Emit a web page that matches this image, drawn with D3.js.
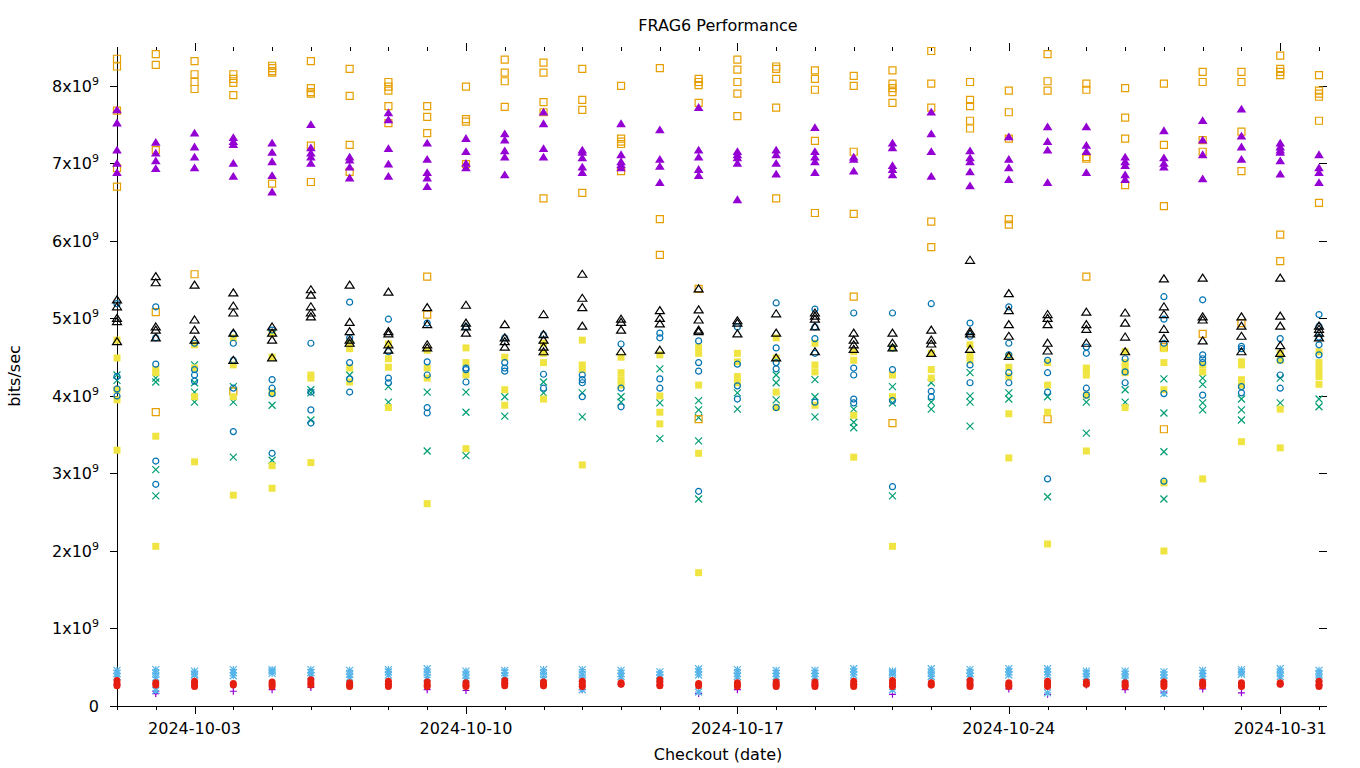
<!DOCTYPE html>
<html><head><meta charset="utf-8">
<script src="https://cdn.jsdelivr.net/npm/d3@7"></script>
<style>body{margin:0;background:#fff}svg{display:block}text{font-family:"DejaVu Sans",sans-serif;fill:#000}</style>
</head><body><svg id="c" width="1360" height="768"></svg>
<script>
const dates = ["2024-10-01","2024-10-02","2024-10-03","2024-10-04","2024-10-05","2024-10-06","2024-10-07","2024-10-08","2024-10-09","2024-10-10","2024-10-11","2024-10-12","2024-10-13","2024-10-14","2024-10-15","2024-10-16","2024-10-17","2024-10-18","2024-10-19","2024-10-20","2024-10-21","2024-10-22","2024-10-23","2024-10-24","2024-10-25","2024-10-26","2024-10-27","2024-10-28","2024-10-29","2024-10-30","2024-10-31","2024-11-01"];
const majorTicks = ["2024-10-03","2024-10-10","2024-10-17","2024-10-24","2024-10-31"];
const yTicks = [0,1,2,3,4,5,6,7,8]; // x10^9
// values in units of 1e9 bits/sec, one list per day
const purplePlus = [[0.27],[0.19,0.16],[0.31],[0.19],[0.21],[0.24],[0.27],[0.28],[0.21],[0.2],[0.3],[0.26],[0.21],[0.28],[0.27],[0.16],[0.21],[0.27],[0.27],[0.28],[0.15],[0.27],[0.27],[0.22],[0.15],[0.27],[0.21],[0.18],[0.22],[0.17],[0.28],[0.27]];
const greenX = [[4.27,4.2],[4.23,4.18,3.05,2.71],[4.4,4.17,4.05,3.92],[4.12,3.92,3.21],[4.05,3.88,3.17],[4.08,4.04,3.69],[4.27],[4.12,3.92],[4.05,3.29],[4.05,3.79,3.23],[3.99,3.74],[4.18,4.04],[4.04,3.73],[3.99,3.92],[4.35,3.91,3.45],[3.94,3.82,3.72,3.42,2.67],[4.04,3.83],[4.27,4.17,3.95],[4.21,3.99,3.73],[3.83,3.66,3.59],[4.12,3.91,2.71],[4.17,3.92,3.83],[4.3,4.0,3.92,3.61],[4.04,3.96],[3.99,2.7],[3.92,3.52],[4.08,3.92],[4.22,3.78,3.28,2.67],[4.23,4.15,3.91,3.82],[3.96,3.82,3.69],[4.23,3.91],[3.96,3.86]];
const blueStar = [[0.46,0.42,0.38],[0.47,0.42,0.37,0.2],[0.45,0.41,0.4],[0.47,0.43,0.39],[0.47,0.45,0.42],[0.47,0.43,0.39],[0.46,0.41,0.37],[0.47,0.44,0.4],[0.48,0.43,0.37],[0.45,0.4,0.36],[0.46,0.43,0.39],[0.47,0.42,0.37],[0.47,0.41,0.36,0.21],[0.46,0.42,0.38],[0.44,0.4,0.36],[0.48,0.44,0.4,0.18],[0.47,0.42,0.38],[0.46,0.42,0.38],[0.46,0.42,0.38],[0.48,0.44,0.4],[0.45,0.43,0.41,0.21],[0.48,0.43,0.38],[0.47,0.42,0.38],[0.48,0.44,0.4],[0.48,0.44,0.4,0.17],[0.45,0.42,0.38],[0.45,0.41,0.36],[0.44,0.4,0.36,0.16],[0.46,0.42,0.38],[0.47,0.44,0.41],[0.48,0.43,0.38],[0.46,0.41,0.36]];
const orangeSq = [[8.35,8.25,7.68,6.94,6.7],[8.41,8.27,7.17,5.08,3.79],[8.32,8.15,8.05,7.96,5.57],[8.15,8.09,8.04,7.88,4.06],[8.26,8.23,8.19,8.17,6.74],[8.32,7.97,7.92,7.9,7.23,6.76],[8.22,7.87,7.24,6.89],[8.05,7.99,7.94,7.74,7.52],[7.74,7.6,7.39,5.54,5.05],[7.99,7.57,7.54,6.99],[8.34,8.17,8.06,7.73],[8.3,8.17,7.79,7.66,6.55],[8.22,7.82,7.69,6.62],[8.0,7.32,7.28,7.25,6.9],[8.23,6.28,5.82],[8.09,8.05,8.01,7.78,5.38,3.7],[8.34,8.21,8.05,7.9,7.61],[8.25,8.22,8.09,7.72,6.55],[8.2,8.09,7.95,7.29,6.36],[8.13,8.0,7.15,6.35,5.28],[8.2,8.03,7.97,7.92,7.78,3.65],[8.45,8.03,7.72,6.25,5.92],[8.05,7.82,7.74,7.55,7.45],[7.94,7.66,7.32,6.28,6.21],[8.41,8.06,7.94,3.7],[8.03,7.95,7.08,7.06,5.54],[7.97,7.59,7.32,6.72],[8.03,7.24,6.45,4.63,3.57],[8.18,8.05,7.3,7.15,4.8],[8.18,8.05,7.41,6.9,4.94],[8.39,8.22,8.18,8.14,6.08,5.74],[8.14,7.94,7.9,7.86,7.55,6.49]];
const yellowSq = [[4.72,4.49,4.08,3.95,3.3],[4.34,4.3,3.48,2.06],[4.66,4.36,3.99,3.15],[4.75,4.4,3.99,2.72],[4.81,4.5,4.04,3.1,2.81],[4.27,4.23,3.14],[4.68,4.61,4.36,4.18],[4.67,4.48,4.37,3.85],[4.59,4.36,4.23,2.61],[4.62,4.43,4.27,3.32],[4.5,4.08,3.88],[4.68,4.55,4.43,3.96],[4.72,4.4,4.34,3.11],[4.5,4.3,4.21,4.14],[4.53,4.0,3.79,3.64],[4.63,4.55,4.14,3.26,1.72],[4.55,4.44,4.25,4.17],[4.75,4.49,4.05,3.85],[4.68,4.4,4.31,3.88],[4.57,4.46,3.75,3.21],[4.62,4.27,3.99,2.06],[4.55,4.34,4.23],[4.66,4.53,4.46],[4.51,4.37,4.25,3.77,3.2],[4.43,4.14,3.79,2.09],[4.36,4.34,4.27,4.01,3.29],[4.57,4.43,4.37,4.3,3.85],[4.61,4.43,4.08,2.88,2.0],[4.4,4.31,2.93],[4.44,4.4,4.21,4.14,3.41],[4.55,4.46,3.83,3.33],[4.57,4.43,4.34,4.25,4.15]];
const blueCircle = [[5.19,4.25,4.09,4.0],[5.15,4.75,4.41,3.16,2.86],[4.68,4.34,4.27,4.19],[4.8,4.68,4.46,4.1,3.54],[4.85,4.21,4.1,4.03,3.26],[4.68,4.05,3.82,3.65],[5.21,4.75,4.43,4.22,4.05],[4.99,4.57,4.23,4.17],[4.94,4.44,4.27,3.85,3.78],[4.89,4.36,4.34,4.18],[4.75,4.43,4.36,4.32],[4.79,4.28,4.1],[4.27,4.21,4.17,3.99],[4.67,4.1,3.86],[4.81,4.75,4.22,4.1],[4.71,4.43,4.32,2.77],[4.89,4.41,4.13,3.96],[5.2,4.62,4.43,4.35,3.85],[5.12,4.89,4.74,4.55,3.92],[5.07,4.36,4.27,3.96,3.91],[5.07,4.62,4.34,3.94,2.83],[5.19,4.06,3.99],[4.94,4.77,4.4,4.17],[5.15,4.68,4.53,4.3,4.17],[4.46,4.3,4.05,2.93],[4.63,4.55,4.1,4.01],[4.48,4.31,4.17],[5.28,4.99,4.68,4.03,2.9],[5.24,4.53,4.48,4.43,4.01],[4.64,4.61,4.12,4.04],[4.74,4.46,4.27,4.1],[5.05,4.9,4.76,4.66,4.53]];
const redCircle = [[0.33,0.29,0.26],[0.3,0.27],[0.32,0.28,0.25],[0.29,0.27],[0.31,0.28,0.25],[0.34,0.3,0.27],[0.3,0.27,0.25],[0.32,0.28,0.25],[0.31,0.27,0.25],[0.3,0.27,0.25],[0.33,0.29,0.26],[0.31,0.28,0.26],[0.32,0.28,0.25],[0.3,0.28],[0.34,0.3,0.26],[0.29,0.26],[0.3,0.27,0.25],[0.31,0.28,0.25],[0.31,0.28,0.25],[0.32,0.28,0.25],[0.33,0.29,0.25],[0.3,0.27],[0.33,0.29,0.25],[0.3,0.27,0.25],[0.32,0.28,0.25],[0.31,0.28],[0.3,0.27,0.25],[0.31,0.28,0.25],[0.31,0.28,0.26],[0.3,0.27,0.25],[0.3,0.28],[0.32,0.28,0.25]];
const blackTri = [[5.24,5.15,5.0,4.96,4.7],[5.54,5.46,4.89,4.85,4.75],[5.43,4.98,4.85,4.72],[5.33,5.16,5.07,4.81,4.46],[4.89,4.81,4.72,4.49],[5.37,5.3,5.15,5.07,5.02],[5.43,4.95,4.83,4.72,4.68],[5.34,4.83,4.8,4.66,4.59],[5.14,4.92,4.66,4.62],[5.17,4.94,4.89,4.81],[4.92,4.75,4.7,4.63],[5.05,4.79,4.72,4.63,4.57],[5.57,5.26,5.14,4.9],[4.99,4.95,4.85,4.57],[5.1,5.0,4.93,4.59],[5.38,5.11,4.98,4.85,4.83],[4.97,4.94,4.8],[5.06,4.81,4.49],[5.07,5.03,4.99,4.89,4.57],[4.81,4.72,4.66,4.6],[4.81,4.68,4.62],[4.85,4.72,4.67,4.55],[5.75,4.83,4.8,4.6],[5.32,5.1,4.92,4.77,4.51],[5.05,5.0,4.92,4.68,4.58],[5.08,4.92,4.86,4.68],[5.07,4.94,4.76,4.57],[5.51,5.15,5.05,4.86,4.74],[5.52,5.02,4.98,4.71],[5.02,4.9,4.77,4.57],[5.52,5.03,4.9,4.65,4.55],[4.9,4.86,4.81,4.75]];
const purpleTri = [[7.69,7.52,7.17,7.0,6.88],[7.27,7.13,7.03,6.93],[7.39,7.21,7.08,6.94],[7.33,7.28,7.24,7.0,6.83],[7.26,7.14,7.02,6.84,6.63],[7.5,7.2,7.13,7.08,7.0],[7.08,7.04,6.95,6.81],[7.65,7.56,7.19,6.99,6.83],[7.26,7.05,6.88,6.81,6.7],[7.32,7.15,7.0,6.94],[7.38,7.3,7.16,7.08,6.85],[7.66,7.51,7.19,7.08],[7.17,7.14,7.07,6.95,6.88],[7.51,7.11,7.02,6.98,6.94],[7.43,7.05,6.96,6.75],[7.72,7.17,7.08,6.92,6.84],[7.15,7.11,7.07,7.0,6.53],[7.17,7.11,7.0,6.86],[7.46,7.15,7.08,7.02,6.88],[7.08,7.05,6.9],[7.26,7.2,6.97,6.92,6.85],[7.66,7.38,7.15,6.83],[7.16,7.07,7.02,6.89,6.71],[7.34,7.05,6.94,6.79],[7.47,7.28,7.17,6.75],[7.47,7.23,7.15,6.88],[7.08,7.02,6.97,6.85,6.79],[7.42,7.07,7.0,6.95],[7.55,7.3,7.11,6.8],[7.7,7.35,7.21,7.05],[7.26,7.21,7.17,7.14,7.03,6.86],[7.11,6.94,6.88,6.75]];

const series = [
  {data: purplePlus, shape: "plus", color: "#9400d3"},
  {data: greenX, shape: "cross", color: "#009e73"},
  {data: blueStar, shape: "star", color: "#56b4e9"},
  {data: orangeSq, shape: "osquare", color: "#e69f00"},
  {data: yellowSq, shape: "fsquare", color: "#f0e442"},
  {data: blueCircle, shape: "ocircle", color: "#0072b2"},
  {data: redCircle, shape: "fcircle", color: "#e51e10"},
  {data: blackTri, shape: "otri", color: "#000000"},
  {data: purpleTri, shape: "ftri", color: "#9400d3"}
];

const UNIT = 1e9;
const parse = d3.utcParse("%Y-%m-%d");
const svg = d3.select("#c");
svg.append("rect").attr("width",1360).attr("height",768).attr("fill","#fff");
const L = 117, R = 1319, T = 51, B = 706;
const x = d3.scaleUtc().domain([parse(dates[0]), parse(dates[dates.length-1])]).range([L, R]);
const y = d3.scaleLinear().domain([0, 8.45*UNIT]).range([B, T]);

const paths = {
  plus: "M-3.5,0H3.5M0,-3.5V3.5",
  cross: "M-3.5,-3.5L3.5,3.5M-3.5,3.5L3.5,-3.5",
  star: "M-3.5,0H3.5M0,-3.5V3.5M-3.5,-3.5L3.5,3.5M-3.5,3.5L3.5,-3.5",
  osquare: "M-3.5,-3.5H3.5V3.5H-3.5Z",
  fsquare: "M-3.5,-3.5H3.5V3.5H-3.5Z",
  ocircle: "M3,0A3,3 0 1 1 -3,0A3,3 0 1 1 3,0Z",
  fcircle: "M3.5,0A3.5,3.5 0 1 1 -3.5,0A3.5,3.5 0 1 1 3.5,0Z",
  otri: "M0,-4L4.5,3H-4.5Z",
  ftri: "M0,-4.5L4.8,3.3H-4.8Z"
};
const filled = {fsquare:true, fcircle:true, ftri:true};

// axes
const gx = svg.append("g");
const dayTicks = dates.map(parse);
const majors = majorTicks.map(parse);
const isMajor = d => majors.some(m => +m === +d);
// bottom
gx.append("line").attr("x1",L).attr("x2",R).attr("y1",B+0.5).attr("y2",B+0.5).attr("stroke","#000");
gx.selectAll(".bt").data(dayTicks).enter().append("line")
  .attr("x1",d=>Math.round(x(d))+0.5).attr("x2",d=>Math.round(x(d))+0.5)
  .attr("y1",B).attr("y2",d=>B+(isMajor(d)?8:4)).attr("stroke","#000");
gx.selectAll(".tt").data(dayTicks).enter().append("line")
  .attr("x1",d=>Math.round(x(d))+0.5).attr("x2",d=>Math.round(x(d))+0.5)
  .attr("y1",T).attr("y2",d=>T-(isMajor(d)?8:4)).attr("stroke","#000");
gx.selectAll(".xl").data(majors).enter().append("text")
  .attr("x",d=>x(d)).attr("y",734).attr("text-anchor","middle").attr("font-size",16)
  .text(d3.utcFormat("%Y-%m-%d"));
// left
const gy = svg.append("g");
gy.append("line").attr("x1",L+0.5).attr("x2",L+0.5).attr("y1",T).attr("y2",B).attr("stroke","#000");
gy.selectAll(".lt").data(yTicks).enter().append("line")
  .attr("x1",L-7).attr("x2",L).attr("y1",d=>Math.round(y(d*UNIT))+0.5).attr("y2",d=>Math.round(y(d*UNIT))+0.5).attr("stroke","#000");
gy.selectAll(".rt").data(yTicks).enter().append("line")
  .attr("x1",R).attr("x2",R+8).attr("y1",d=>Math.round(y(d*UNIT))+0.5).attr("y2",d=>Math.round(y(d*UNIT))+0.5).attr("stroke","#000");
const yl = gy.selectAll(".yl").data(yTicks).enter().append("text")
  .attr("x",99).attr("y",d=>y(d*UNIT)+6).attr("text-anchor","end").attr("font-size",16);
yl.each(function(d){
  const t = d3.select(this);
  if (d === 0) { t.text("0"); return; }
  t.append("tspan").text(d + "x10");
  t.append("tspan").attr("font-size",11).attr("dy",-7).text("9");
});

// titles
svg.append("text").attr("x",718).attr("y",31).attr("text-anchor","middle").attr("font-size",16).text("FRAG6 Performance");
svg.append("text").attr("x",718).attr("y",760).attr("text-anchor","middle").attr("font-size",16).text("Checkout (date)");
svg.append("text").attr("transform","translate(20,376) rotate(-90)").attr("text-anchor","middle").attr("font-size",16).text("bits/sec");

// points
const gp = svg.append("g");
series.forEach(s => {
  const pts = [];
  s.data.forEach((vals, i) => vals.forEach(v => pts.push({d: parse(dates[i]), v})));
  gp.append("g").selectAll("path").data(pts).enter().append("path")
    .attr("transform", p => `translate(${x(p.d)},${y(p.v*UNIT)})`)
    .attr("d", paths[s.shape])
    .attr("fill", filled[s.shape] ? s.color : "none")
    .attr("stroke", filled[s.shape] ? "none" : s.color)
    .attr("stroke-width", 1.2);
});
</script></body></html>
